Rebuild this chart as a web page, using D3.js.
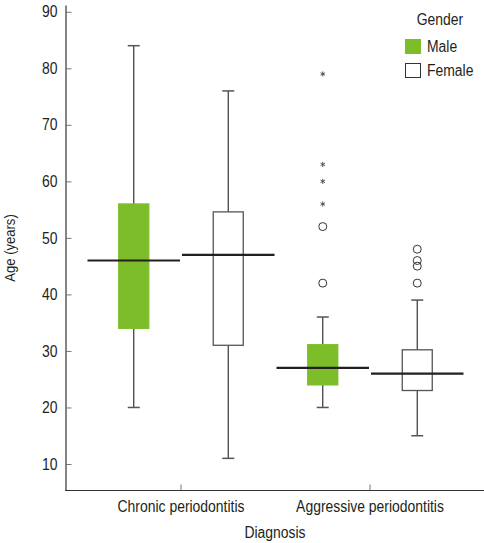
<!DOCTYPE html>
<html>
<head>
<meta charset="utf-8">
<script src="https://cdn.jsdelivr.net/npm/d3@7"></script>
<style>
  html, body { margin: 0; padding: 0; background: #fff; }
  svg { display: block; }
  text { font-family: "Liberation Sans", Arial, sans-serif; fill: #231f20; }
</style>
</head>
<body>
<svg id="chart" width="484" height="543"></svg>
<script>
// ---- data ----
const categories = ["Chronic periodontitis", "Aggressive periodontitis"];
const genders = ["Male", "Female"];
const yTicks = [10, 20, 30, 40, 50, 60, 70, 80, 90];

const maleLow = [20, 20];
const maleQ1 = [34, 24];
const maleMedian = [46, 27];
const maleQ3 = [56, 31.1];
const maleHigh = [84, 36];

const femaleLow = [11, 15];
const femaleQ1 = [31, 23];
const femaleMedian = [47, 26];
const femaleQ3 = [54.6, 30.2];
const femaleHigh = [76, 39];

const maleOutlierCircles = [[], [42, 52]];
const maleOutlierStars = [[], [56, 60, 63, 79]];
const femaleOutlierCircles = [[], [42, 45, 46, 48]];
const femaleOutlierStars = [[], []];

// ---- build ----
const boxes = [];
categories.forEach((c, i) => {
  boxes.push({cat: c, gender: "Male", low: maleLow[i], q1: maleQ1[i], med: maleMedian[i], q3: maleQ3[i], high: maleHigh[i],
    circles: maleOutlierCircles[i], stars: maleOutlierStars[i]});
  boxes.push({cat: c, gender: "Female", low: femaleLow[i], q1: femaleQ1[i], med: femaleMedian[i], q3: femaleQ3[i], high: femaleHigh[i],
    circles: femaleOutlierCircles[i], stars: femaleOutlierStars[i]});
});

const colors = {Male: "#7dbd2a", Female: "#ffffff"};
const strokes = {Male: "#7dbd2a", Female: "#555555"};

const svg = d3.select("#chart");
const x = d3.scaleBand().domain(categories).range([86.5, 464.5]);
const xs = d3.scaleBand().domain(genders).range([0, x.bandwidth()]);
const y = d3.scaleLinear().domain([5.4, 91.2]).range([490, 5]);

const boxW = 30, capW = 12;
const fontSize = 16;

// y axis
const yAxis = svg.append("g").attr("transform", "translate(65.5,0)")
  .call(d3.axisLeft(y).tickValues(yTicks).tickSizeInner(-6).tickSizeOuter(0).tickPadding(8));
yAxis.select(".domain").attr("stroke", "#333").attr("stroke-width", 1.2);
yAxis.selectAll(".tick line").attr("stroke", "#777");
yAxis.selectAll(".tick text").attr("font-size", fontSize).attr("font-family", null).attr("fill", "#231f20");

// x axis
const xAxis = svg.append("g").attr("transform", "translate(0,490.5)")
  .call(d3.axisBottom(x).tickSizeInner(-6).tickSizeOuter(0).tickPadding(10));
xAxis.select(".domain").remove();
xAxis.selectAll(".tick line").attr("stroke", "#777");
xAxis.selectAll(".tick text").attr("font-size", fontSize).attr("font-family", null).attr("fill", "#231f20");
xAxis.append("line").attr("x1", 65).attr("x2", 484).attr("y1", 0).attr("y2", 0)
  .attr("stroke", "#333").attr("stroke-width", 1.2);

// boxes
const g = svg.append("g");
const bg = g.selectAll("g.box").data(boxes).join("g").attr("class", "box")
  .attr("transform", d => `translate(${x(d.cat) + xs(d.gender)},0)`);
const cx = xs.bandwidth() / 2;

// whiskers
bg.append("line").attr("x1", cx).attr("x2", cx).attr("y1", d => y(d.high)).attr("y2", d => y(d.q3))
  .attr("stroke", "#333").attr("stroke-width", 1.2);
bg.append("line").attr("x1", cx).attr("x2", cx).attr("y1", d => y(d.q1)).attr("y2", d => y(d.low))
  .attr("stroke", "#333").attr("stroke-width", 1.2);
bg.append("line").attr("x1", cx - capW / 2).attr("x2", cx + capW / 2).attr("y1", d => y(d.high)).attr("y2", d => y(d.high))
  .attr("stroke", "#555").attr("stroke-width", 1.5);
bg.append("line").attr("x1", cx - capW / 2).attr("x2", cx + capW / 2).attr("y1", d => y(d.low)).attr("y2", d => y(d.low))
  .attr("stroke", "#555").attr("stroke-width", 1.5);

// box
bg.append("rect").attr("x", cx - boxW / 2).attr("width", boxW)
  .attr("y", d => y(d.q3)).attr("height", d => y(d.q1) - y(d.q3))
  .attr("fill", d => colors[d.gender]).attr("stroke", d => strokes[d.gender]).attr("stroke-width", 1.3);

// median spanning sub-band
bg.append("line").attr("x1", 1).attr("x2", xs.bandwidth() - 1)
  .attr("y1", d => y(d.med)).attr("y2", d => y(d.med))
  .attr("stroke", "#231f20").attr("stroke-width", 2.2);

// outliers
bg.selectAll("circle.out").data(d => d.circles).join("circle").attr("class", "out")
  .attr("cx", cx).attr("cy", v => y(v)).attr("r", 4)
  .attr("fill", "none").attr("stroke", "#333").attr("stroke-width", 1);
const star = d3.symbol().type(d3.symbolAsterisk).size(18);
bg.selectAll("path.star").data(d => d.stars).join("path").attr("class", "star")
  .attr("transform", v => `translate(${cx},${y(v)})`).attr("d", star)
  .attr("fill", "none").attr("stroke", "#444").attr("stroke-width", 0.9);

// axis titles
svg.append("text").attr("transform", "translate(15,248) rotate(-90)").attr("text-anchor", "middle")
  .attr("font-size", 15).text("Age (years)");
svg.append("text").attr("x", 275).attr("y", 538).attr("text-anchor", "middle")
  .attr("font-size", fontSize).text("Diagnosis");

// legend
const lg = svg.append("g");
lg.append("text").attr("x", 440).attr("y", 25).attr("text-anchor", "middle").attr("font-size", fontSize).text("Gender");
const li = lg.selectAll("g.item").data(genders).join("g").attr("class", "item")
  .attr("transform", (d, i) => `translate(405.5,${39.5 + i * 24})`);
li.append("rect").attr("width", 15).attr("height", 14)
  .attr("fill", d => colors[d]).attr("stroke", d => d === "Male" ? colors[d] : "#333").attr("stroke-width", 1);
li.append("text").attr("x", 21.5).attr("y", 12.5).attr("font-size", fontSize).text(d => d);

// condense all text horizontally to mimic a narrow typeface
svg.selectAll("text").each(function () {
  const w = this.getComputedTextLength();
  if (w > 0) {
    d3.select(this).attr("textLength", (w * 0.87).toFixed(2)).attr("lengthAdjust", "spacingAndGlyphs");
  }
});
</script>
</body>
</html>
